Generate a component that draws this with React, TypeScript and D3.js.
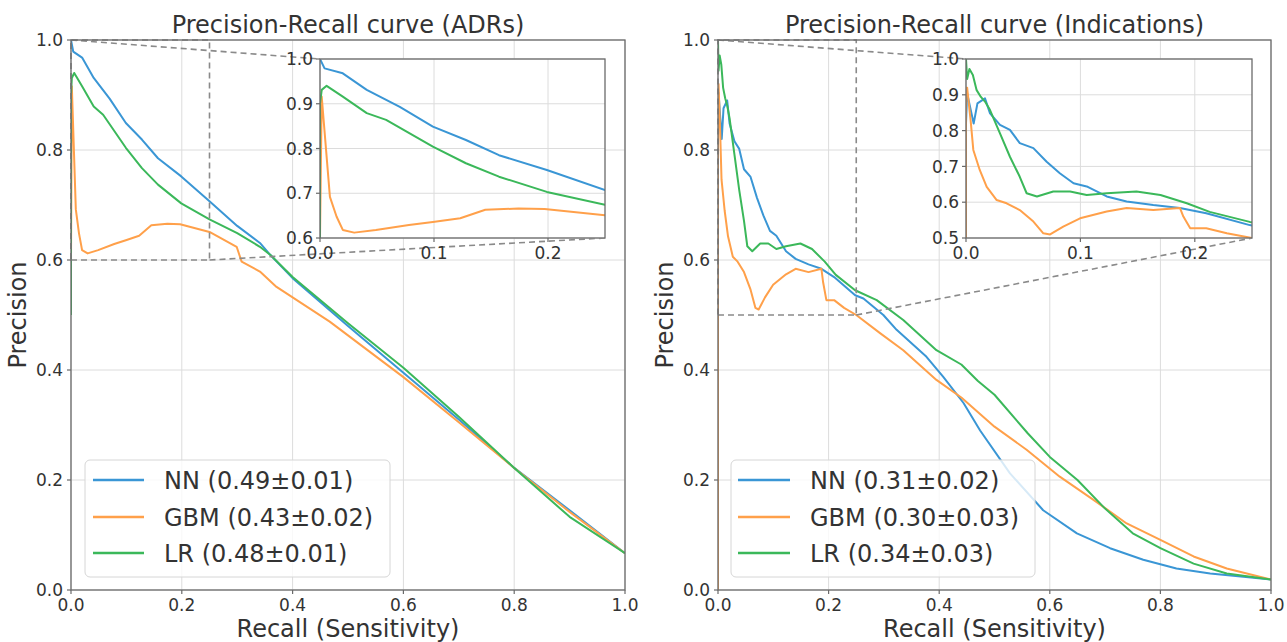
import React from "react";
import * as d3 from "d3";

const W = 1287;
const H = 642;
const FONT = "DejaVu Sans, Verdana, sans-serif";

// ---------------- Data ----------------
const mainTicks = [0, 0.2, 0.4, 0.6, 0.8, 1.0];
const insetXTicks = [0, 0.1, 0.2];
const adrInsetYTicks = [0.6, 0.7, 0.8, 0.9, 1.0];
const indInsetYTicks = [0.5, 0.6, 0.7, 0.8, 0.9, 1.0];

const seriesNames = ["NN", "GBM", "LR"];
const adrScores = ["0.49±0.01", "0.43±0.02", "0.48±0.01"];
const indScores = ["0.31±0.02", "0.30±0.03", "0.34±0.03"];

// ADRs panel
const adrNNRecall = [0, 0.004, 0.02, 0.041, 0.07, 0.099, 0.128, 0.157, 0.199, 0.25, 0.3, 0.341, 0.36, 0.4, 0.5, 0.6, 0.7, 0.8, 0.9, 1.0];
const adrNNPrecision = [1.0, 0.979, 0.968, 0.931, 0.893, 0.849, 0.819, 0.785, 0.752, 0.707, 0.662, 0.631, 0.609, 0.567, 0.48, 0.395, 0.31, 0.222, 0.145, 0.067];

const adrGBMRecall = [0, 0.0015, 0.0087, 0.0145, 0.02, 0.03, 0.049, 0.078, 0.099, 0.123, 0.145, 0.174, 0.197, 0.25, 0.299, 0.308, 0.341, 0.371, 0.467, 0.6, 0.7, 0.8, 0.9, 1.0];
const adrGBMPrecision = [0.6, 0.916, 0.692, 0.648, 0.618, 0.612, 0.618, 0.629, 0.636, 0.644, 0.663, 0.666, 0.665, 0.651, 0.624, 0.597, 0.579, 0.551, 0.488, 0.387, 0.305, 0.222, 0.142, 0.067];

const adrLRRecall = [0, 0, 0.0015, 0.0058, 0.02, 0.041, 0.058, 0.099, 0.128, 0.157, 0.199, 0.25, 0.3, 0.341, 0.36, 0.4, 0.5, 0.6, 0.7, 0.8, 0.9, 1.0];
const adrLRPrecision = [0.5, 0.9, 0.931, 0.94, 0.916, 0.879, 0.864, 0.804, 0.767, 0.737, 0.703, 0.674, 0.649, 0.624, 0.609, 0.569, 0.485, 0.404, 0.315, 0.222, 0.133, 0.067];

// Indications panel
const indNNRecall = [0, 0.001, 0.0067, 0.01, 0.0166, 0.021, 0.0297, 0.0384, 0.047, 0.0589, 0.0705, 0.082, 0.094, 0.1055, 0.123, 0.1404, 0.1637, 0.187, 0.21, 0.248, 0.263, 0.287, 0.299, 0.323, 0.377, 0.407, 0.444, 0.474, 0.528, 0.588, 0.649, 0.709, 0.769, 0.829, 0.89, 0.95, 1.0];
const indNNPrecision = [0.82, 0.904, 0.82, 0.876, 0.89, 0.848, 0.816, 0.802, 0.765, 0.751, 0.713, 0.681, 0.653, 0.644, 0.616, 0.602, 0.592, 0.584, 0.569, 0.536, 0.53, 0.51, 0.5, 0.473, 0.424, 0.388, 0.34, 0.29, 0.212, 0.145, 0.103, 0.076, 0.055, 0.039, 0.03, 0.024, 0.019];

const indGBMRecall = [0, 0, 0.001, 0.004, 0.0064, 0.012, 0.0181, 0.0268, 0.0355, 0.047, 0.0589, 0.0676, 0.0735, 0.085, 0.0997, 0.123, 0.1404, 0.1637, 0.187, 0.19, 0.196, 0.21, 0.228, 0.25, 0.293, 0.335, 0.395, 0.44, 0.5, 0.558, 0.618, 0.679, 0.739, 0.8, 0.86, 0.92, 1.0];
const indGBMPrecision = [0, 0.92, 0.92, 0.83, 0.746, 0.69, 0.643, 0.606, 0.597, 0.578, 0.546, 0.513, 0.51, 0.532, 0.555, 0.574, 0.584, 0.578, 0.584, 0.56, 0.527, 0.527, 0.513, 0.5, 0.467, 0.436, 0.382, 0.35, 0.297, 0.255, 0.206, 0.164, 0.121, 0.091, 0.061, 0.039, 0.019];

const indLRRecall = [0, 0.001, 0.003, 0.006, 0.0093, 0.013, 0.0166, 0.0209, 0.0297, 0.0384, 0.047, 0.053, 0.062, 0.0763, 0.091, 0.1055, 0.123, 0.149, 0.17, 0.193, 0.213, 0.248, 0.287, 0.335, 0.395, 0.44, 0.47, 0.5, 0.56, 0.6, 0.65, 0.7, 0.75, 0.8, 0.86, 0.92, 1.0];
const indLRPrecision = [1.0, 0.944, 0.972, 0.955, 0.913, 0.894, 0.881, 0.858, 0.792, 0.727, 0.671, 0.625, 0.616, 0.63, 0.63, 0.62, 0.625, 0.63, 0.62, 0.597, 0.573, 0.545, 0.527, 0.491, 0.436, 0.41, 0.38, 0.355, 0.285, 0.242, 0.2, 0.148, 0.103, 0.076, 0.048, 0.03, 0.019];

// ---------------- Styles ----------------
const COLORS = ["#3a96d5", "#ffa04a", "#3bb85a"];
const SPINE = "#6a6a6a";
const GRID = "#dcdcdc";
const DASH = "#8a8a8a";
const TEXT = "#333333";

type Series = { name: string; score: string; x: number[]; y: number[]; color: string };

type PanelCfg = {
  id: string;
  title: string;
  x0: number; x1: number; y0: number; y1: number;
  ix0: number; ix1: number; iy0: number; iy1: number;
  iyMin: number;
  iyTicks: number[];
  series: Series[];
  legend: { bx0: number; bx1: number; by0: number; by1: number; lx0: number; lx1: number; tx: number; rows: number[] };
  ylabelX: number;
};

function makeSeries(xs: number[][], ys: number[][], scores: string[]): Series[] {
  return seriesNames.map((n, i) => ({ name: n, score: scores[i], x: xs[i], y: ys[i], color: COLORS[i] }));
}

const panels: PanelCfg[] = [
  {
    id: "adr",
    title: "Precision-Recall curve (ADRs)",
    x0: 71, x1: 625, y0: 40, y1: 590,
    ix0: 320, ix1: 605, iy0: 59, iy1: 238,
    iyMin: 0.6,
    iyTicks: adrInsetYTicks,
    series: makeSeries([adrNNRecall, adrGBMRecall, adrLRRecall], [adrNNPrecision, adrGBMPrecision, adrLRPrecision], adrScores),
    legend: { bx0: 85, bx1: 390, by0: 460, by1: 577, lx0: 93, lx1: 144, tx: 164, rows: [480, 517, 553] },
    ylabelX: 26,
  },
  {
    id: "ind",
    title: "Precision-Recall curve (Indications)",
    x0: 718, x1: 1271, y0: 40, y1: 590,
    ix0: 966, ix1: 1252, iy0: 59, iy1: 238,
    iyMin: 0.5,
    iyTicks: indInsetYTicks,
    series: makeSeries([indNNRecall, indGBMRecall, indLRRecall], [indNNPrecision, indGBMPrecision, indLRPrecision], indScores),
    legend: { bx0: 731, bx1: 1035, by0: 460, by1: 577, lx0: 738, lx1: 790, tx: 810, rows: [480, 517, 553] },
    ylabelX: 673,
  },
];

const fmt = d3.format(".1f");

function Panel({ cfg }: { cfg: PanelCfg }) {
  const xs = d3.scaleLinear().domain([0, 1]).range([cfg.x0, cfg.x1]);
  const ys = d3.scaleLinear().domain([0, 1]).range([cfg.y1, cfg.y0]);
  const ixs = d3.scaleLinear().domain([0, 0.25]).range([cfg.ix0, cfg.ix1]);
  const iys = d3.scaleLinear().domain([cfg.iyMin, 1]).range([cfg.iy1, cfg.iy0]);

  const mainLine = d3.line<[number, number]>().x((d) => xs(d[0])).y((d) => ys(d[1]));
  const insetLine = d3.line<[number, number]>().x((d) => ixs(d[0])).y((d) => iys(d[1]));

  const pts = (s: Series) => s.x.map((v, i) => [v, s.y[i]] as [number, number]);

  const cx = (cfg.x0 + cfg.x1) / 2;
  const cy = (cfg.y0 + cfg.y1) / 2;

  return (
    <g fontFamily={FONT}>
      <defs>
        <clipPath id={`clip-${cfg.id}`}>
          <rect x={cfg.x0} y={cfg.y0} width={cfg.x1 - cfg.x0} height={cfg.y1 - cfg.y0} />
        </clipPath>
        <clipPath id={`iclip-${cfg.id}`}>
          <rect x={cfg.ix0} y={cfg.iy0} width={cfg.ix1 - cfg.ix0} height={cfg.iy1 - cfg.iy0} />
        </clipPath>
      </defs>

      {/* main grid */}
      {mainTicks.map((t) => (
        <g key={`g${t}`}>
          <line x1={xs(t)} x2={xs(t)} y1={cfg.y0} y2={cfg.y1} stroke={GRID} strokeWidth={1} />
          <line x1={cfg.x0} x2={cfg.x1} y1={ys(t)} y2={ys(t)} stroke={GRID} strokeWidth={1} />
        </g>
      ))}

      {/* main curves */}
      <g clipPath={`url(#clip-${cfg.id})`}>
        {cfg.series.map((s) => (
          <path key={s.name} d={mainLine(pts(s)) || ""} fill="none" stroke={s.color} strokeWidth={2} strokeLinejoin="round" />
        ))}
      </g>

      {/* zoom indicator */}
      <g fill="none" stroke={DASH} strokeWidth={1.6} strokeDasharray="6,4">
        <path d={`M${xs(0)},${ys(cfg.iyMin)}H${xs(0.25)}V${ys(1)}H${xs(0)}Z`} />
        <line x1={xs(0)} y1={ys(1)} x2={cfg.ix0} y2={cfg.iy0} />
        <line x1={xs(0.25)} y1={ys(cfg.iyMin)} x2={cfg.ix1} y2={cfg.iy1} />
      </g>

      {/* main spines */}
      <rect x={cfg.x0} y={cfg.y0} width={cfg.x1 - cfg.x0} height={cfg.y1 - cfg.y0} fill="none" stroke={SPINE} strokeWidth={1.3} />

      {/* main ticks */}
      {mainTicks.map((t) => (
        <g key={`t${t}`} fill={TEXT} fontSize={17}>
          <line x1={xs(t)} x2={xs(t)} y1={cfg.y1} y2={cfg.y1 + 4} stroke={SPINE} strokeWidth={1.2} />
          <text x={xs(t)} y={cfg.y1 + 21} textAnchor="middle">{fmt(t)}</text>
          <line x1={cfg.x0 - 4} x2={cfg.x0} y1={ys(t)} y2={ys(t)} stroke={SPINE} strokeWidth={1.2} />
          <text x={cfg.x0 - 8} y={ys(t)} dy="0.36em" textAnchor="end">{fmt(t)}</text>
        </g>
      ))}

      {/* titles and labels */}
      <text x={cx} y={33} textAnchor="middle" fontSize={24} fill={TEXT}>{cfg.title}</text>
      <text x={cx} y={637} textAnchor="middle" fontSize={24} fill={TEXT}>Recall (Sensitivity)</text>
      <text transform={`translate(${cfg.ylabelX},${cy}) rotate(-90)`} textAnchor="middle" fontSize={24} fill={TEXT}>Precision</text>

      {/* inset */}
      <rect x={cfg.ix0} y={cfg.iy0} width={cfg.ix1 - cfg.ix0} height={cfg.iy1 - cfg.iy0} fill="#ffffff" />
      {insetXTicks.map((t) => (
        <line key={`ix${t}`} x1={ixs(t)} x2={ixs(t)} y1={cfg.iy0} y2={cfg.iy1} stroke={GRID} strokeWidth={1} />
      ))}
      {cfg.iyTicks.map((t) => (
        <line key={`iy${t}`} x1={cfg.ix0} x2={cfg.ix1} y1={iys(t)} y2={iys(t)} stroke={GRID} strokeWidth={1} />
      ))}
      <g clipPath={`url(#iclip-${cfg.id})`}>
        {cfg.series.map((s) => (
          <path key={s.name} d={insetLine(pts(s)) || ""} fill="none" stroke={s.color} strokeWidth={2} strokeLinejoin="round" />
        ))}
      </g>
      <rect x={cfg.ix0} y={cfg.iy0} width={cfg.ix1 - cfg.ix0} height={cfg.iy1 - cfg.iy0} fill="none" stroke={SPINE} strokeWidth={1.3} />
      {insetXTicks.map((t) => (
        <g key={`ixt${t}`} fill={TEXT} fontSize={17}>
          <line x1={ixs(t)} x2={ixs(t)} y1={cfg.iy1} y2={cfg.iy1 + 4} stroke={SPINE} strokeWidth={1.2} />
          <text x={ixs(t)} y={cfg.iy1 + 21} textAnchor="middle">{fmt(t)}</text>
        </g>
      ))}
      {cfg.iyTicks.map((t) => (
        <g key={`iyt${t}`} fill={TEXT} fontSize={17}>
          <line x1={cfg.ix0 - 4} x2={cfg.ix0} y1={iys(t)} y2={iys(t)} stroke={SPINE} strokeWidth={1.2} />
          <text x={cfg.ix0 - 7} y={iys(t)} dy="0.36em" textAnchor="end">{fmt(t)}</text>
        </g>
      ))}

      {/* legend */}
      <rect
        x={cfg.legend.bx0}
        y={cfg.legend.by0}
        width={cfg.legend.bx1 - cfg.legend.bx0}
        height={cfg.legend.by1 - cfg.legend.by0}
        rx={5}
        fill="#ffffff"
        fillOpacity={0.8}
        stroke="#d6d6d6"
        strokeWidth={1}
      />
      {cfg.series.map((s, i) => (
        <g key={`l${s.name}`}>
          <line x1={cfg.legend.lx0} x2={cfg.legend.lx1} y1={cfg.legend.rows[i]} y2={cfg.legend.rows[i]} stroke={s.color} strokeWidth={2.5} />
          <text x={cfg.legend.tx} y={cfg.legend.rows[i]} dy="0.36em" fontSize={24} fill={TEXT}>
            {`${s.name} (${s.score})`}
          </text>
        </g>
      ))}
    </g>
  );
}

export default function App() {
  return (
    <svg
      width={W}
      height={H}
      viewBox={`0 0 ${W} ${H}`}
      style={{ position: "absolute", left: 0, top: 0, background: "#ffffff" }}
    >
      <rect x={0} y={0} width={W} height={H} fill="#ffffff" />
      {panels.map((p) => (
        <Panel key={p.id} cfg={p} />
      ))}
    </svg>
  );
}
